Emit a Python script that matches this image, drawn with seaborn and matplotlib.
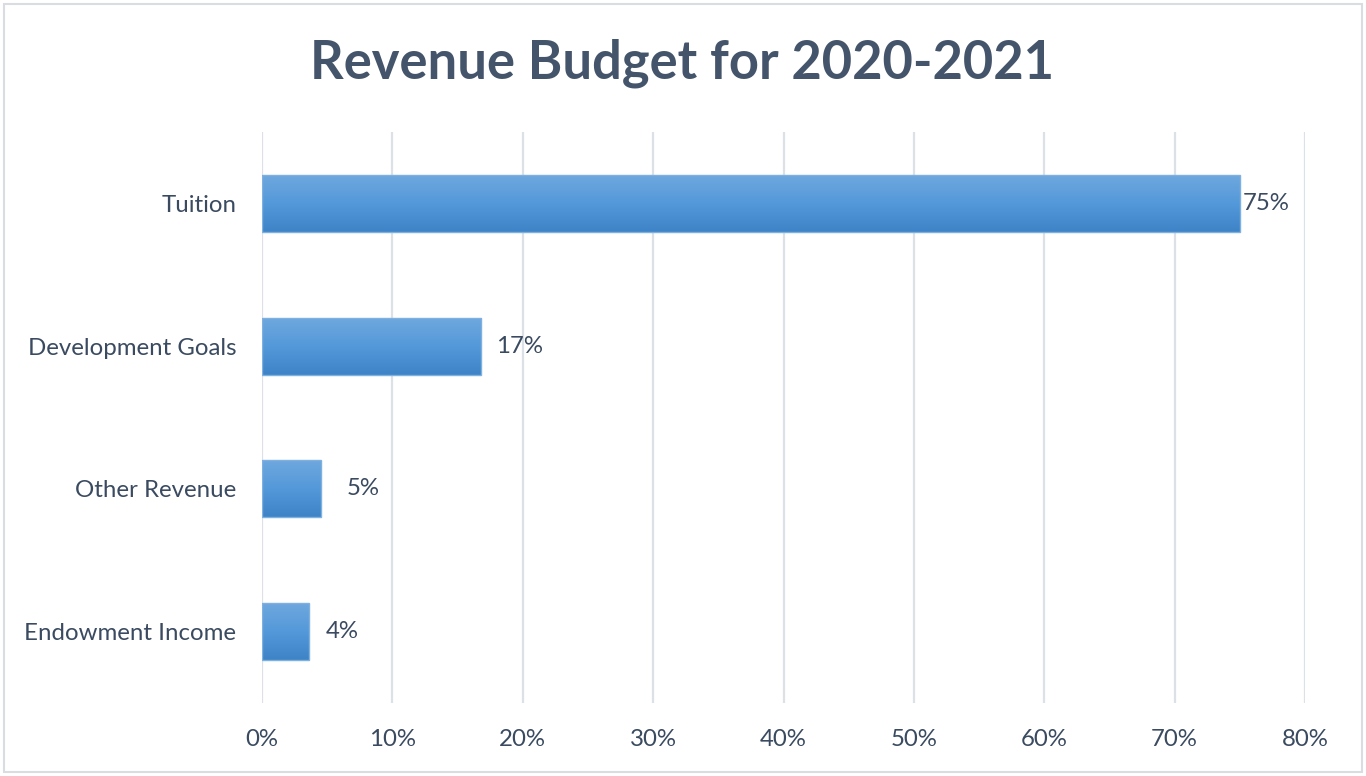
import numpy as np
import pandas as pd
import matplotlib
matplotlib.use("Agg")
import matplotlib.pyplot as plt
import seaborn as sns
from matplotlib.colors import LinearSegmentedColormap
from matplotlib.patches import Rectangle

categories = ["Tuition", "Development Goals", "Other Revenue", "Endowment Income"]
values = [75.0, 16.8, 4.5, 3.6]
value_labels = ["75%", "17%", "5%", "4%"]
x_ticks = [0, 10, 20, 30, 40, 50, 60, 70, 80]
x_tick_labels = ["0%", "10%", "20%", "30%", "40%", "50%", "60%", "70%", "80%"]
title = "Revenue Budget for 2020-2021"

label_pad_px = [3, 15, 26, 17]

sns.set_theme(style="white")
plt.rcParams["font.family"] = ["Lato", "DejaVu Sans"]

text_color = "#3A4A60"
title_color = "#44546A"
grid_color = "#DCE1E8"

fig = plt.figure(figsize=(13.66, 7.76), dpi=100)
W, H = 1366, 776
ax = fig.add_axes([262 / W, 1 - 703 / H, (1305 - 262) / W, (703 - 132) / H])

df = pd.DataFrame({"category": categories, "value": values})
sns.barplot(data=df, x="value", y="category", orient="h", ax=ax,
            color="#5B9BD5", width=0.4, saturation=1, zorder=3)

ax.set_xlim(0, 80)
ax.set_ylim(3.5, -0.5)
ax.set_xticks(x_ticks)
ax.set_xticklabels(x_tick_labels)
ax.set_xlabel("")
ax.set_ylabel("")
for s in ax.spines.values():
    s.set_visible(False)
ax.grid(False)
for xt in x_ticks:
    ax.axvline(xt, color=grid_color, lw=1.6, zorder=1)
ax.tick_params(axis="both", length=0, labelsize=17.3, colors=text_color)
ax.tick_params(axis="x", pad=19)
ax.tick_params(axis="y", pad=18.5)

cmap = LinearSegmentedColormap.from_list("g", ["#70A8DE", "#5499DA", "#3D83C6"])
grad = np.linspace(0, 1, 256).reshape(-1, 1)
for p in list(ax.patches):
    x0, y0 = p.get_x(), p.get_y()
    w, h = p.get_width(), p.get_height()
    p.set_facecolor("none")
    p.set_edgecolor("#7FB1E0")
    p.set_linewidth(1.0)
    im = ax.imshow(grad, cmap=cmap, aspect="auto",
                   extent=[x0, x0 + w, y0 + h, y0], origin="upper", zorder=2.5)
    im.set_clip_path(p)
ax.set_xlim(0, 80)
ax.set_ylim(3.5, -0.5)

for i, (v, lab) in enumerate(zip(values, value_labels)):
    ax.annotate(lab, xy=(v, i), xytext=(label_pad_px[i] * 0.72, 0),
                textcoords="offset points", ha="left", va="center",
                fontsize=17.3, color=text_color, zorder=4)

fig.text(682 / W, 1 - 63 / H, title, ha="center", va="center",
         fontsize=37.8, fontweight="bold", color=title_color)

fig.patches.append(Rectangle((4 / W, 4 / H), 1 - 8 / W, 1 - 8 / H,
                             transform=fig.transFigure, fill=False,
                             edgecolor="#D9DCE1", lw=1.5))

fig.savefig("out.png", dpi=100, facecolor="white")
